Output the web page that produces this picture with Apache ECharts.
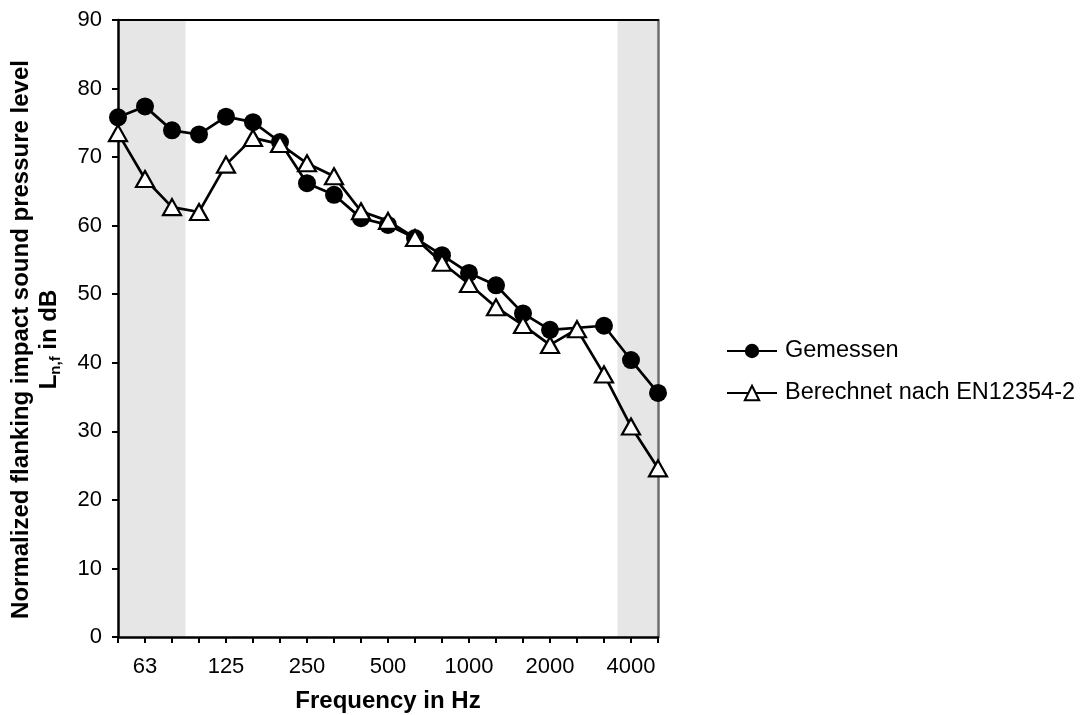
<!DOCTYPE html>
<html>
<head>
<meta charset="utf-8">
<style>
  html, body { margin: 0; padding: 0; background: #fff; }
  #main { width: 1084px; height: 715px; }
</style>
<script src="https://cdn.jsdelivr.net/npm/echarts@6/dist/echarts.min.js"></script>
</head>
<body>
<div id="main"></div>
<script>
// third-octave bands (Hz)
const freqs = ['50', '63', '80', '100', '125', '160', '200', '250', '315', '400', '500',
  '630', '800', '1000', '1250', '1600', '2000', '2500', '3150', '4000', '5000']
const tickLabels = ['63', '125', '250', '500', '1000', '2000', '4000']
// 2500 Hz measured point is not drawn in the original (line just passes through)
const measured = [75.8, 77.4, 73.9, 73.3, 75.9, 75.1, 72.2, 66.2, 64.5, 61.1, 60.1,
  58.2, 55.7, 53.1, 51.3, 47.2, 44.8, null, 45.4, 40.4, 35.6]
const calculated = [73.5, 66.8, 62.7, 62.0, 68.9, 72.8, 71.9, 69.1, 67.2, 62.1, 60.7,
  58.2, 54.6, 51.5, 48.1, 45.5, 42.6, 44.9, 38.3, 30.7, 24.6]
// shaded ranges, in band index units
const shadedBands = [[0, 2.5], [18.5, 20]]

const font = 'Liberation Sans, Arial, sans-serif'
const chart = echarts.init(document.getElementById('main'))

const toPairs = arr => arr.map((v, i) => [i, v])

chart.setOption({
  animation: false,
  textStyle: { fontFamily: font },
  grid: { left: 118, right: 426, top: 20, bottom: 78, outerBoundsMode: 'none' },
  legend: {
    orient: 'vertical',
    left: 721,
    top: 334,
    itemWidth: 50,
    itemHeight: 18,
    itemGap: 18,
    textStyle: { fontSize: 23.5, lineHeight: 24, color: '#000', fontFamily: font, padding: [0, 0, 0, 3] },
    data: ['Gemessen', 'Berechnet nach EN12354-2']
  },
  xAxis: [{
    type: 'value',
    min: 0,
    max: 20,
    interval: 1,
    z: 1,
    name: 'Frequency in Hz',
    nameLocation: 'middle',
    nameGap: 52,
    nameTextStyle: { fontSize: 24, fontWeight: 'bold', color: '#000', fontFamily: font },
    axisLine: { onZero: false, lineStyle: { color: '#000', width: 2.5 } },
    axisTick: { length: 6, lineStyle: { color: '#000', width: 2 } },
    axisLabel: {
      margin: 19,
      fontSize: 22,
      color: '#000',
      formatter: v => (tickLabels.includes(freqs[v]) ? freqs[v] : '')
    },
    splitLine: { show: false }
  }, {
    type: 'value',
    position: 'top',
    min: 0,
    max: 20,
    z: 1,
    axisLine: { show: true, onZero: false, lineStyle: { color: '#000', width: 2 } },
    axisTick: { show: false },
    axisLabel: { show: false },
    splitLine: { show: false }
  }],
  yAxis: [{
    type: 'value',
    min: 0,
    max: 90,
    interval: 10,
    z: 1,
    name: 'Normalized flanking impact sound pressure level\n{n|L}{s|n,f}{n| in dB}',
    nameLocation: 'middle',
    nameRotate: 90,
    nameGap: 55,
    nameTextStyle: {
      fontSize: 24,
      fontWeight: 'bold',
      color: '#000',
      fontFamily: font,
      lineHeight: 28,
      padding: [0, 22, 0, 0],
      rich: {
        n: { fontSize: 24, fontWeight: 'bold', color: '#000', fontFamily: font, lineHeight: 28 },
        s: { fontSize: 15, fontWeight: 'bold', color: '#000', fontFamily: font, lineHeight: 28, verticalAlign: 'bottom', padding: [10, 0, 0, 0] }
      }
    },
    axisLine: { show: true, onZero: false, lineStyle: { color: '#000', width: 2.5 } },
    axisTick: { show: true, length: 6, lineStyle: { color: '#000', width: 2 } },
    axisLabel: { margin: 16, fontSize: 22, color: '#000' },
    splitLine: { show: false }
  }, {
    type: 'value',
    position: 'right',
    min: 0,
    max: 90,
    z: 1,
    axisLine: { show: true, onZero: false, lineStyle: { color: '#6e6e6e', width: 2.5 } },
    axisTick: { show: false },
    axisLabel: { show: false },
    splitLine: { show: false }
  }],
  series: [{
    name: 'Gemessen',
    type: 'line',
    data: toPairs(measured),
    connectNulls: true,
    symbol: 'circle',
    symbolSize: 18,
    lineStyle: { color: '#000', width: 2.7 },
    itemStyle: { color: '#000' },
    markArea: {
      silent: true,
      z: 0,
      itemStyle: { color: '#e6e6e6' },
      data: shadedBands.map(b => [{ xAxis: b[0] }, { xAxis: b[1] }])
    }
  }, {
    name: 'Berechnet nach EN12354-2',
    type: 'line',
    data: toPairs(calculated),
    symbol: 'triangle',
    symbolSize: [18, 16],
    lineStyle: { color: '#000', width: 2.7 },
    itemStyle: { color: '#fff', borderColor: '#000', borderWidth: 2.2 }
  }]
})
</script>
</body>
</html>
